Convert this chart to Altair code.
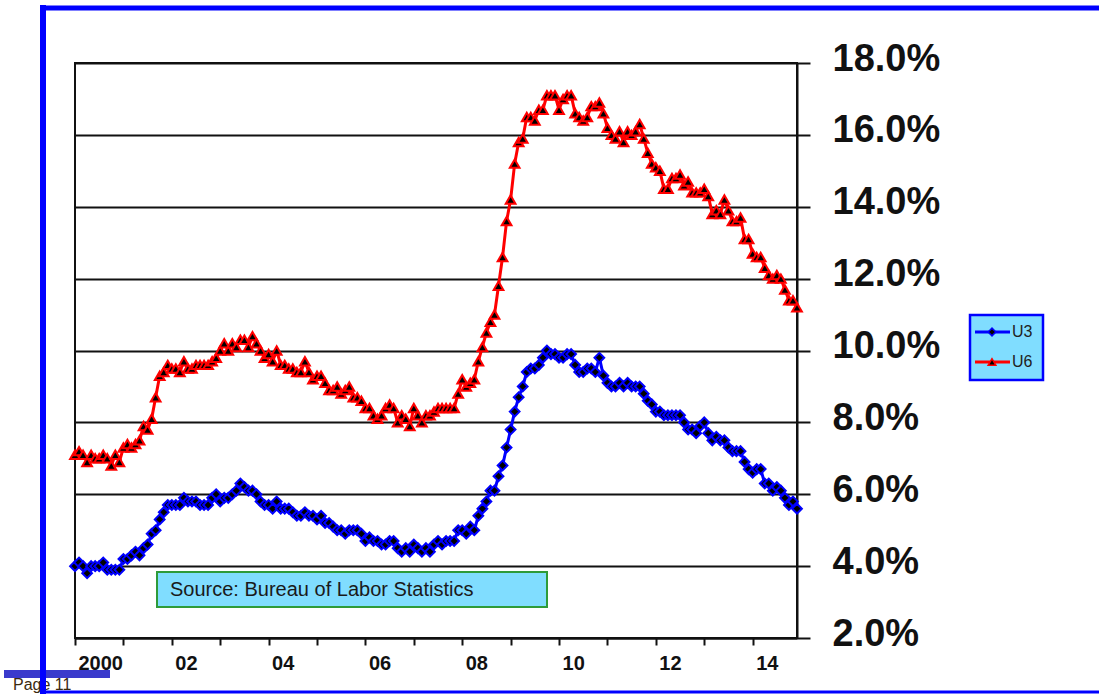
import altair as alt
import pandas as pd

# Monthly unemployment rates (%), Jan 2000 - Dec 2014
u3 = [
    4.0, 4.1, 4.0, 3.8, 4.0, 4.0, 4.0, 4.1, 3.9, 3.9, 3.9, 3.9,   # 2000
    4.2, 4.2, 4.3, 4.4, 4.3, 4.5, 4.6, 4.9, 5.0, 5.3, 5.5, 5.7,   # 2001
    5.7, 5.7, 5.7, 5.9, 5.8, 5.8, 5.8, 5.7, 5.7, 5.7, 5.9, 6.0,   # 2002
    5.8, 5.9, 5.9, 6.0, 6.1, 6.3, 6.2, 6.1, 6.1, 6.0, 5.8, 5.7,   # 2003
    5.7, 5.6, 5.8, 5.6, 5.6, 5.6, 5.5, 5.4, 5.4, 5.5, 5.4, 5.4,   # 2004
    5.3, 5.4, 5.2, 5.2, 5.1, 5.0, 5.0, 4.9, 5.0, 5.0, 5.0, 4.9,   # 2005
    4.7, 4.8, 4.7, 4.7, 4.6, 4.6, 4.7, 4.7, 4.5, 4.4, 4.5, 4.4,   # 2006
    4.6, 4.5, 4.4, 4.5, 4.4, 4.6, 4.7, 4.6, 4.7, 4.7, 4.7, 5.0,   # 2007
    5.0, 4.9, 5.1, 5.0, 5.4, 5.6, 5.8, 6.1, 6.1, 6.5, 6.8, 7.3,   # 2008
    7.8, 8.3, 8.7, 9.0, 9.4, 9.5, 9.5, 9.6, 9.8, 10.0, 9.9, 9.9,  # 2009
    9.8, 9.8, 9.9, 9.9, 9.6, 9.4, 9.4, 9.5, 9.5, 9.4, 9.8, 9.3,   # 2010
    9.1, 9.0, 9.0, 9.1, 9.0, 9.1, 9.0, 9.0, 9.0, 8.8, 8.6, 8.5,   # 2011
    8.3, 8.3, 8.2, 8.2, 8.2, 8.2, 8.2, 8.0, 7.8, 7.8, 7.7, 7.9,   # 2012
    8.0, 7.7, 7.5, 7.6, 7.5, 7.5, 7.3, 7.2, 7.2, 7.2, 6.9, 6.7,   # 2013
    6.6, 6.7, 6.7, 6.3, 6.3, 6.1, 6.2, 6.1, 5.9, 5.7, 5.8, 5.6,   # 2014
]
u6 = [
    7.1, 7.2, 7.1, 6.9, 7.1, 7.0, 7.0, 7.1, 7.0, 6.8, 7.1, 6.9,   # 2000
    7.3, 7.4, 7.3, 7.4, 7.5, 7.9, 7.8, 8.1, 8.7, 9.3, 9.4, 9.6,   # 2001
    9.5, 9.5, 9.4, 9.7, 9.5, 9.5, 9.6, 9.6, 9.6, 9.6, 9.7, 9.8,   # 2002
    10.0, 10.2, 10.0, 10.2, 10.1, 10.3, 10.3, 10.1, 10.4, 10.2, 10.0, 9.8,  # 2003
    9.9, 9.7, 10.0, 9.6, 9.6, 9.5, 9.5, 9.4, 9.4, 9.7, 9.4, 9.2,  # 2004
    9.3, 9.3, 9.1, 8.9, 8.9, 9.0, 8.8, 8.9, 9.0, 8.7, 8.7, 8.6,   # 2005
    8.4, 8.4, 8.2, 8.1, 8.2, 8.4, 8.5, 8.4, 8.0, 8.2, 8.1, 7.9,   # 2006
    8.4, 8.2, 8.0, 8.2, 8.2, 8.3, 8.4, 8.4, 8.4, 8.4, 8.4, 8.8,   # 2007
    9.2, 9.0, 9.1, 9.2, 9.7, 10.1, 10.5, 10.8, 11.0, 11.8, 12.6, 13.6,  # 2008
    14.2, 15.2, 15.8, 15.9, 16.5, 16.5, 16.4, 16.7, 16.7, 17.1, 17.1, 17.1,  # 2009
    16.7, 17.0, 17.1, 17.1, 16.6, 16.5, 16.4, 16.5, 16.8, 16.8, 16.9, 16.6,  # 2010
    16.2, 16.0, 15.9, 16.1, 15.8, 16.1, 16.0, 16.1, 16.3, 15.9, 15.5, 15.2,  # 2011
    15.1, 15.0, 14.5, 14.5, 14.8, 14.8, 14.9, 14.6, 14.7, 14.4, 14.4, 14.4,  # 2012
    14.5, 14.3, 13.8, 13.9, 13.8, 14.2, 13.9, 13.6, 13.6, 13.7, 13.1, 13.1,  # 2013
    12.7, 12.6, 12.6, 12.3, 12.1, 12.0, 12.1, 12.0, 11.7, 11.4, 11.4, 11.2,  # 2014
]
series_names = ["U3", "U6"]
series_colors = ["#0000FF", "#FF0000"]
series_shapes = ["diamond", "triangle-up"]

# Even years get a label at their January tick
year_labels = ["2000", "02", "04", "06", "08", "10", "12", "14"]
y_ticks = [2, 4, 6, 8, 10, 12, 14, 16, 18]
source_note = "Source: Bureau of Labor Statistics"
page_note = "Page 11"

n = len(u3)
df = pd.DataFrame({
    "month": list(range(n)) * 2,
    "series": ["U3"] * n + ["U6"] * n,
    "rate": u3 + u6,
})

label_expr = "''"
for i in reversed(range(len(year_labels))):
    label_expr = f"datum.value == {i * 24} ? '{year_labels[i]}' : ({label_expr})"

FONT = "Liberation Sans"
LIGHT_BLUE = "#80DDFF"

x_enc = alt.X(
    "month:Q",
    scale=alt.Scale(domain=[0, n - 1], nice=False, zero=False),
    axis=alt.Axis(
        title=None, grid=False, values=list(range(0, n, 3)),
        labelExpr=label_expr, labelAlign="left", labelBaseline="top",
        labelOffset=3, labelPadding=8, labelFont=FONT, labelFontSize=20,
        labelFontWeight="bold", labelColor="#111", labelOverlap=False,
        tickSize=7, tickWidth=2, tickColor="#111",
        domainColor="#111", domainWidth=2,
    ),
)
y_enc = alt.Y(
    "rate:Q",
    scale=alt.Scale(domain=[2, 18], nice=False, zero=False),
    axis=alt.Axis(
        title=None, orient="right", values=y_ticks,
        labelExpr="format(datum.value, '.1f') + '%'",
        labelFont=FONT, labelFontSize=38, labelFontWeight="bold",
        labelColor="#111", labelAlign="left", labelBaseline="middle",
        labelPadding=22, labelOffset=-4,
        tickSize=13, tickWidth=2, tickColor="#111",
        grid=True, gridColor="#111", gridWidth=2, gridOpacity=1,
        domainColor="#111", domainWidth=2,
    ),
)
color_enc = alt.Color("series:N", scale=alt.Scale(domain=series_names, range=series_colors), legend=None)
shape_enc = alt.Shape("series:N", scale=alt.Scale(domain=series_names, range=series_shapes), legend=None)

base = alt.Chart(df)
lines = base.mark_line(strokeWidth=3).encode(x=x_enc, y=y_enc, color=color_enc)
points = base.mark_point(fill="black", size=95, strokeWidth=2, opacity=1).encode(
    x="month:Q", y="rate:Q", color=color_enc, shape=shape_enc
)

one = pd.DataFrame({"k": [0]})

# Source note box inside the plot
src_box = alt.Chart(one).mark_rect(fill=LIGHT_BLUE, stroke="#2E9B3A", strokeWidth=2).encode(
    x=alt.value(82), x2=alt.value(472), y=alt.value(509), y2=alt.value(544)
)
src_text = alt.Chart(one).mark_text(
    text=source_note, align="left", baseline="middle", font=FONT, fontSize=20, color="#1a1a1a"
).encode(x=alt.value(95), y=alt.value(527))

# Legend box at the right
leg_layers = [
    alt.Chart(one).mark_rect(fill=LIGHT_BLUE, stroke="#0000FF", strokeWidth=2.5).encode(
        x=alt.value(895), x2=alt.value(968), y=alt.value(252), y2=alt.value(317)
    )
]
for i, name in enumerate(series_names):
    ly = 269 + i * 30
    leg_layers.append(
        alt.Chart(one).mark_rule(color=series_colors[i], strokeWidth=3).encode(
            x=alt.value(900), x2=alt.value(935), y=alt.value(ly)
        )
    )
    leg_layers.append(
        alt.Chart(one).mark_point(
            shape=series_shapes[i], fill="black", stroke=series_colors[i],
            size=60, strokeWidth=1.5, opacity=1
        ).encode(x=alt.value(917), y=alt.value(ly))
    )
    leg_layers.append(
        alt.Chart(one).mark_text(
            text=name, align="left", baseline="middle", font=FONT, fontSize=16, color="#222"
        ).encode(x=alt.value(937), y=alt.value(ly))
    )

# Page frame
frame = [
    alt.Chart(one).mark_rule(color="#0000FF", strokeWidth=5).encode(
        x=alt.value(-35), x2=alt.value(1030), y=alt.value(-55)
    ),
    alt.Chart(one).mark_rule(color="#0000FF", strokeWidth=3).encode(
        x=alt.value(-35), x2=alt.value(1030), y=alt.value(629)
    ),
    alt.Chart(one).mark_rect(fill="#3A3ACC").encode(
        x=alt.value(-71), x2=alt.value(35), y=alt.value(607), y2=alt.value(615)
    ),
    alt.Chart(one).mark_text(
        text=page_note, align="left", baseline="alphabetic", font=FONT, fontSize=16, color="#3a2a10"
    ).encode(x=alt.value(-62), y=alt.value(627)),
    alt.Chart(one).mark_rule(color="#0000FF", strokeWidth=6).encode(
        x=alt.value(-32), y=alt.value(-58), y2=alt.value(640)
    ),
]

chart = alt.layer(lines, points, src_box, src_text, *leg_layers, *frame).properties(
    width=722,
    height=575,
    autosize=alt.AutoSizeParams(type="none"),
    padding={"left": 75, "top": 63, "right": 302, "bottom": 56},
    background="white",
).configure_view(stroke="#111", strokeWidth=2)

chart.save("out.html", embed_options={"renderer": "svg", "actions": False})
